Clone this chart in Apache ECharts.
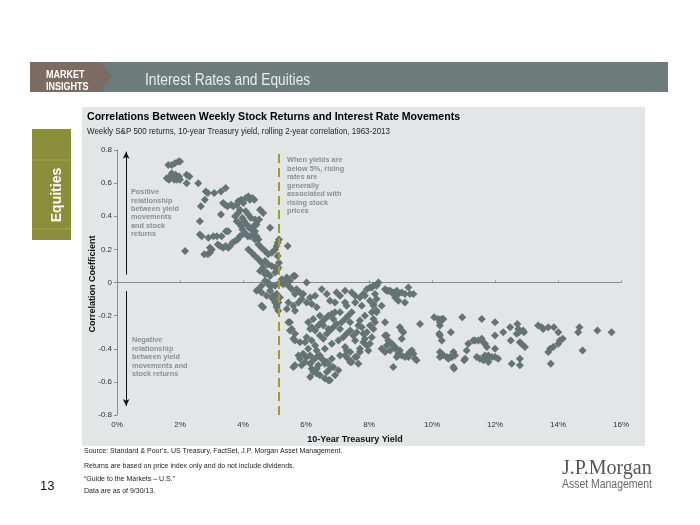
<!DOCTYPE html>
<html>
<head>
<meta charset="utf-8">
<script src="https://cdn.jsdelivr.net/npm/echarts@6/dist/echarts.min.js"></script>
<style>
html,body{margin:0;padding:0;background:#fff;}
#c{width:700px;height:525px;}
</style>
</head>
<body>
<div id="c"></div>
<script>
// ---- data (10-year Treasury yield %, rolling 2-yr correlation) ----
const xTickValues = [0, 2, 4, 6, 8, 10, 12, 14, 16];
const yTickValues = [-0.8, -0.6, -0.4, -0.2, 0, 0.2, 0.4, 0.6, 0.8];
const thresholdYield = 5.15;

const lowYieldPoints = [
[1.63,0.71],[1.74,0.71],[1.84,0.72],[1.95,0.73],[2.0,0.73],
[1.58,0.63],[1.68,0.64],[1.74,0.66],[1.79,0.64],[1.86,0.65],[1.93,0.63],[1.97,0.64],[2.0,0.62],[1.65,0.62],[1.82,0.62],[1.9,0.62],
[2.21,0.65],[2.21,0.60],[2.3,0.64],[2.58,0.60],
[2.82,0.55],[2.88,0.54],[3.09,0.54],[3.3,0.55],[3.45,0.57],[2.79,0.50],[2.66,0.46],
[2.63,0.37],[2.63,0.29],[2.69,0.28],[2.16,0.19],
[2.77,0.17],[2.88,0.17],[2.95,0.18],[3.01,0.20],[2.95,0.21],
[2.9,0.27],[3.06,0.28],[3.17,0.28],[3.32,0.28],[3.46,0.31],[3.53,0.31],
[3.2,0.23],[3.27,0.22],[3.37,0.21],[3.45,0.22],[3.53,0.21],[3.59,0.22],[3.66,0.24],[3.75,0.25],[3.83,0.26],[3.9,0.28],[3.98,0.29],
[3.3,0.41],[3.37,0.48],[3.43,0.47],[3.51,0.46],[3.62,0.47],[3.69,0.46],[3.8,0.47],[3.85,0.49],[3.94,0.50],[4.01,0.48],[4.09,0.51],[4.17,0.52],[4.22,0.50],[4.3,0.51],[4.36,0.50],
[3.75,0.40],[3.8,0.37],[3.87,0.36],[3.94,0.34],[3.98,0.39],[4.04,0.37],[4.12,0.35],[4.19,0.33],[4.28,0.32],[4.33,0.34],[4.38,0.31],[4.09,0.43],[4.17,0.41],[4.25,0.39],[3.98,0.32],[4.06,0.30],[4.15,0.28],[4.22,0.28],[4.3,0.29],[4.43,0.28],[4.49,0.26],[3.85,0.42],[3.9,0.44],[4.38,0.38],[4.43,0.35],[4.54,0.44],[4.64,0.42],[4.86,0.33],[4.51,0.38],
[4.38,0.26],[4.49,0.23],[4.59,0.21],[4.7,0.19],[4.8,0.17],[4.91,0.18],[5.02,0.20],[5.07,0.22],[5.1,0.24],[5.14,0.26],
[4.17,0.20],[4.28,0.18],[4.38,0.16],[4.49,0.14],[4.59,0.12],[4.7,0.13],[4.8,0.11],[4.91,0.10],[5.02,0.09],[4.64,0.09],[4.54,0.07],[4.7,0.05],[4.86,0.04],[5.02,0.06],[5.1,0.08],
[4.7,0.01],[4.8,-0.01],[4.91,-0.02],[4.59,-0.02],[4.49,-0.04],[4.86,-0.05],[4.96,-0.08],
[5.1,0.16],[5.14,0.12],[5.12,0.09],
[4.64,0.07],[4.75,0.06],[4.8,0.0],[5.02,-0.02],[5.07,-0.07],[4.96,-0.10],[5.12,-0.12],[4.59,-0.14],[4.64,-0.15],[5.12,-0.17],[5.07,-0.15],
[4.43,-0.05],[4.59,-0.06],[4.75,-0.08],[4.91,-0.09],[5.02,-0.12],[5.07,-0.14],[5.17,-0.09],[5.17,0.0]
];

const midYieldPoints = [
[5.42,0.22],[5.23,0.02],[5.39,0.03],[5.49,0.01],[5.6,0.04],[5.28,-0.01],[5.44,-0.02],[5.55,-0.04],
[5.31,0.0],[5.39,0.01],[5.65,0.04],[5.7,-0.04],[5.81,-0.06],[5.91,-0.07],[6.02,0.0],[6.13,-0.09],[6.29,-0.08],[6.02,-0.12],[6.18,-0.13],[6.34,-0.15],[5.86,-0.10],[5.76,-0.12],[5.6,-0.14],[5.44,-0.12],[5.39,-0.16],[5.65,-0.17],
[5.49,-0.24],[5.55,-0.28],[5.49,-0.29],[5.65,-0.31],[5.6,-0.34],[5.65,-0.35],
[5.76,-0.44],[5.81,-0.46],[5.65,-0.50],[5.91,-0.43],[6.02,-0.45],[5.97,-0.48],[6.13,-0.49],[6.18,-0.52],[6.29,-0.53],[6.34,-0.55],[6.44,-0.56],[6.6,-0.58],[6.66,-0.54],[6.39,-0.50],[6.5,-0.46],[6.34,-0.45],[6.44,-0.44],[6.55,-0.47],[6.71,-0.49],[6.82,-0.46],[6.87,-0.51],[6.92,-0.56],[6.76,-0.59],
[6.07,-0.24],[6.18,-0.27],[6.29,-0.29],[6.39,-0.26],[6.5,-0.24],[6.6,-0.22],[6.71,-0.20],[6.82,-0.19],[6.92,-0.18],[6.44,-0.32],[6.55,-0.34],[6.66,-0.31],[6.76,-0.29],[6.87,-0.27],[6.97,-0.25],[7.08,-0.28],[7.13,-0.24],[7.24,-0.22],[7.34,-0.20],[7.45,-0.18],
[6.18,-0.35],[6.29,-0.38],[5.97,-0.36],[6.07,-0.40],[6.34,-0.41],[6.6,-0.40],[6.82,-0.37],[7.03,-0.35],[7.18,-0.33],[7.29,-0.31],[7.4,-0.29],[7.5,-0.32],[7.56,-0.35],[7.61,-0.30],[7.66,-0.26],[7.71,-0.23],[7.77,-0.27],[7.82,-0.31],[7.87,-0.34],[7.93,-0.38],[7.98,-0.41],[8.03,-0.37],[8.09,-0.33],[8.14,-0.28],[8.19,-0.24],
[6.5,-0.04],[6.66,-0.07],[6.97,-0.06],[7.08,-0.08],[7.24,-0.05],[7.45,-0.06],[7.56,-0.08],[7.71,-0.09],[7.82,-0.07],[7.93,-0.04],[8.09,-0.03],[8.24,-0.02],[8.3,0.0],[8.03,-0.11],[8.14,-0.14],[7.77,-0.14],[7.56,-0.12],[7.24,-0.12],[6.92,-0.12],[6.76,-0.11],[7.87,-0.20],[8.09,-0.18],[8.24,-0.17],[8.4,-0.14],[8.51,-0.04],[8.61,-0.05],[8.72,-0.06],
[7.24,-0.44],[7.34,-0.46],[7.45,-0.48],[7.56,-0.45],[7.66,-0.49],[7.71,-0.42],[8.51,-0.32],[8.61,-0.35],[8.72,-0.37],[8.4,-0.40],[8.51,-0.42],[8.77,-0.51],[7.24,-0.39],[7.4,-0.42],
[5.6,-0.51],[5.86,-0.50],[6.13,-0.57],[6.23,-0.54],[6.71,-0.59],[7.03,-0.53],[6.76,-0.52],[6.6,-0.49],[6.34,-0.52],
[5.44,-0.24],[5.81,-0.36],[6.02,-0.33],[6.13,-0.28],[6.23,-0.22],[6.44,-0.20],[6.55,-0.26],[6.71,-0.28],[6.87,-0.22],[7.08,-0.18],[7.29,-0.14],[7.4,-0.24],[7.71,-0.40],[7.82,-0.36],[7.93,-0.30],[8.03,-0.26],[8.14,-0.22],[8.24,-0.18],
[6.13,-0.44],[6.23,-0.47],[6.66,-0.48],[7.08,-0.44],[7.29,-0.41],[7.4,-0.48],[7.61,-0.45],
[8.56,-0.05],[8.67,-0.05],[8.77,-0.06],[8.88,-0.05],[8.93,-0.07],[9.04,-0.06],[9.14,-0.07],[9.25,-0.03],[9.3,-0.07],[9.41,-0.07],[8.93,-0.11],[9.14,-0.12],[8.83,-0.09],
[8.51,-0.24],[8.98,-0.27],[9.09,-0.30],[9.04,-0.34],[8.56,-0.32],[8.72,-0.37],[8.83,-0.40],[8.67,-0.41],[8.93,-0.43],[9.04,-0.44],[9.14,-0.45],[9.25,-0.45],[9.3,-0.42],[9.41,-0.43],[9.46,-0.46],[9.51,-0.47],[8.98,-0.41],[8.88,-0.45],[8.56,-0.38],[9.04,-0.29],[8.83,-0.39],[9.62,-0.25],[9.2,-0.44],[9.36,-0.41],
[7.87,-0.08],[8.03,-0.03],[8.14,-0.02],[8.19,-0.07],[8.24,-0.10],[8.14,-0.13],
[4.86,-0.02],[5.65,-0.07]
];

const highYieldPoints = [
[10.07,-0.21],[10.2,-0.22],[10.31,-0.22],[10.25,-0.24],[10.36,-0.22],[10.25,-0.26],[10.23,-0.31],[10.25,-0.32],[10.31,-0.35],[10.6,-0.30],[10.96,-0.21],[11.58,-0.22],[12.0,-0.24],
[10.25,-0.42],[10.31,-0.43],[10.36,-0.44],[10.25,-0.45],[10.47,-0.45],[10.52,-0.46],[10.57,-0.45],[10.63,-0.45],[10.68,-0.42],[10.73,-0.44],[10.68,-0.51],[10.7,-0.52],[11.02,-0.47],[11.05,-0.46],[11.1,-0.41],[11.15,-0.37],[11.31,-0.35],[11.37,-0.35],[11.47,-0.35],[11.58,-0.34],[11.63,-0.36],[11.68,-0.37],[11.74,-0.39],[11.42,-0.45],[11.52,-0.46],[11.63,-0.47],[11.68,-0.44],[11.74,-0.46],[11.79,-0.44],[11.79,-0.48],[11.9,-0.45],[12.0,-0.45],[12.1,-0.46],[12.0,-0.40],[12.0,-0.32],[12.26,-0.30],[12.48,-0.27],[12.5,-0.35],[12.71,-0.25],[12.74,-0.28],[12.69,-0.31],[12.76,-0.30],[12.89,-0.29],[12.92,-0.30],[12.79,-0.36],[12.84,-0.37],[12.95,-0.39],[12.53,-0.49],[12.79,-0.46],[12.79,-0.50],
[13.37,-0.26],[13.48,-0.27],[13.53,-0.28],[13.69,-0.27],[13.87,-0.27],[14.01,-0.30],[14.15,-0.34],[14.06,-0.35],[14.01,-0.37],[13.85,-0.39],[13.75,-0.40],[13.69,-0.42],[13.77,-0.49],[14.68,-0.27],[14.64,-0.30],[14.78,-0.41],[15.25,-0.29],[15.7,-0.30]
];

const titleText = 'Correlations Between Weekly Stock Returns and Interest Rate Movements';
const subtitleText = 'Weekly S&P 500 returns, 10-year Treasury yield, rolling 2-year correlation, 1963-2013';
const xAxisTitle = '10-Year Treasury Yield';
const yAxisTitle = 'Correlation Coefficient';
const footnotes = [
  "Source: Standard & Poor\u2019s, US Treasury, FactSet, J.P. Morgan Asset Management.",
  "Returns are based on price index only and do not include dividends.",
  "\u201cGuide to the Markets \u2013 U.S.\u201d",
  "Data are as of 9/30/13."
];
const notePositive = 'Positive\nrelationship\nbetween yield\nmovements\nand stock\nreturns';
const noteNegative = 'Negative\nrelationship\nbetween yield\nmovements and\nstock returns';
const noteThreshold = 'When yields are\nbelow 5%, rising\nrates are\ngenerally\nassociated with\nrising stock\nprices';

// ---- chart ----
const F = "'Liberation Sans', Arial, sans-serif";
const chart = echarts.init(document.getElementById('c'), null, {renderer: 'canvas'});
const allPoints = lowYieldPoints.concat(midYieldPoints, highYieldPoints);
const noteColor = '#879191';

const footGraphics = footnotes.map((t, i) => ({
  type: 'text', x: 84, y: [448, 463, 476, 488][i],
  style: {text: t, font: '7px ' + F, fill: '#222'}
}));

const option = {
  backgroundColor: '#ffffff',
  animation: false,
  grid: {left: 117, right: 79, top: 150, bottom: 110, containLabel: false},
  xAxis: [{
    type: 'value', min: xTickValues[0], max: xTickValues[xTickValues.length - 1], interval: 2,
    axisLine: {show: false, onZero: false}, axisTick: {show: false}, splitLine: {show: false},
    axisLabel: {formatter: v => v + '%', fontFamily: F, fontSize: 8, color: '#333', margin: 6},
    name: xAxisTitle, nameLocation: 'middle', nameGap: 20,
    nameTextStyle: {fontFamily: F, fontSize: 9, fontWeight: 'bold', color: '#111', padding: [0, 28, 0, 0]}
  }, {
    type: 'value', min: xTickValues[0], max: xTickValues[xTickValues.length - 1], interval: 2,
    axisLine: {show: true, onZero: true, lineStyle: {color: '#8a8a8a', width: 1}},
    axisTick: {show: true, length: 2, lineStyle: {color: '#8a8a8a'}},
    axisLabel: {show: false}, splitLine: {show: false}
  }],
  yAxis: {
    type: 'value', min: yTickValues[0], max: yTickValues[yTickValues.length - 1], interval: 0.2,
    axisLine: {show: true, lineStyle: {color: '#8a8a8a', width: 1}},
    axisTick: {show: true, length: 3, lineStyle: {color: '#8a8a8a'}},
    splitLine: {show: false},
    axisLabel: {formatter: v => (Math.abs(v) < 1e-9 ? '0' : v.toFixed(1)), fontFamily: F, fontSize: 8, color: '#333', margin: 5}
  },
  series: [{
    type: 'scatter', xAxisIndex: 0, data: allPoints,
    symbol: 'diamond', symbolSize: 8,
    itemStyle: {color: '#657374', opacity: 1},
    z: 3,
    markLine: {
      silent: true, symbol: 'none', animation: false,
      label: {show: false},
      lineStyle: {color: '#a09d2c', type: [9, 5], width: 2},
      data: [{xAxis: thresholdYield}]
    }
  }, {
    type: 'scatter', xAxisIndex: 0, data: [],
    markLine: {
      silent: true, symbol: ['none', 'arrow'], symbolSize: [5, 7], animation: false,
      label: {show: false},
      lineStyle: {color: '#111', type: 'solid', width: 1},
      data: [
        [{coord: [0.29, 0.048]}, {coord: [0.29, 0.79]}],
        [{coord: [0.29, -0.052]}, {coord: [0.29, -0.745]}]
      ]
    }
  }],
  graphic: [
    // panel background
    {type: 'rect', z: -10, shape: {x: 82, y: 107, width: 563, height: 339}, style: {fill: '#e2e6e7'}},
    // header band
    {type: 'rect', shape: {x: 30, y: 62, width: 638, height: 30}, style: {fill: '#6e7b7b'}},
    {type: 'polygon', shape: {points: [[30, 62], [101, 62], [111, 77], [101, 92], [30, 92]]}, style: {fill: '#7c6b62'}},
    {type: 'text', x: 46, y: 69, scaleX: 0.82, style: {text: 'MARKET', font: 'bold 11px ' + F, fill: '#ffffff'}},
    {type: 'text', x: 46, y: 81, scaleX: 0.82, style: {text: 'INSIGHTS', font: 'bold 11px ' + F, fill: '#ffffff'}},
    {type: 'text', x: 145, y: 73, scaleX: 0.86, style: {text: 'Interest Rates and Equities', font: '16px ' + F, fill: '#e8ecec'}},
    // side tab
    {type: 'rect', shape: {x: 32, y: 129, width: 39, height: 111}, style: {fill: '#8a8e3a'}},
    {type: 'line', shape: {x1: 32, y1: 160, x2: 71, y2: 160}, style: {stroke: '#9fa356', lineWidth: 1}},
    {type: 'line', shape: {x1: 32, y1: 229, x2: 71, y2: 229}, style: {stroke: '#9fa356', lineWidth: 1}},
    {type: 'text', x: 57, y: 195, rotation: Math.PI / 2,
      style: {text: 'Equities', font: 'bold 14px ' + F, fill: '#ffffff', textAlign: 'center', textVerticalAlign: 'middle'}},
    // titles
    {type: 'text', x: 87, y: 112, style: {text: titleText, font: 'bold 10.6px ' + F, fill: '#000'}},
    {type: 'text', x: 87, y: 126, scaleX: 0.84, style: {text: subtitleText, font: '9.5px ' + F, fill: '#222'}},
    // y axis title
    {type: 'text', x: 93, y: 284, rotation: Math.PI / 2,
      style: {text: yAxisTitle, font: 'bold 9px ' + F, fill: '#111', textAlign: 'center', textVerticalAlign: 'middle'}},
    // annotations
    {type: 'text', x: 131, y: 188, style: {text: notePositive, font: 'bold 7.3px ' + F, fill: noteColor, lineHeight: 8.4}},
    {type: 'text', x: 287, y: 156, style: {text: noteThreshold, font: 'bold 7.3px ' + F, fill: noteColor, lineHeight: 8.5}},
    {type: 'text', x: 132, y: 336, style: {text: noteNegative, font: 'bold 7.3px ' + F, fill: noteColor, lineHeight: 8.5}},
    // page number and logo
    {type: 'text', x: 40, y: 480, style: {text: '13', font: '13px ' + F, fill: '#111'}},
    {type: 'text', x: 562, y: 459, style: {text: 'J.P.Morgan', font: '20px "Liberation Serif", "DejaVu Serif", serif', fill: '#555'}},
    {type: 'text', x: 562, y: 479, scaleX: 0.87, style: {text: 'Asset Management', font: '12px ' + F, fill: '#666'}}
  ].concat(footGraphics)
};
chart.setOption(option);
</script>
</body>
</html>
